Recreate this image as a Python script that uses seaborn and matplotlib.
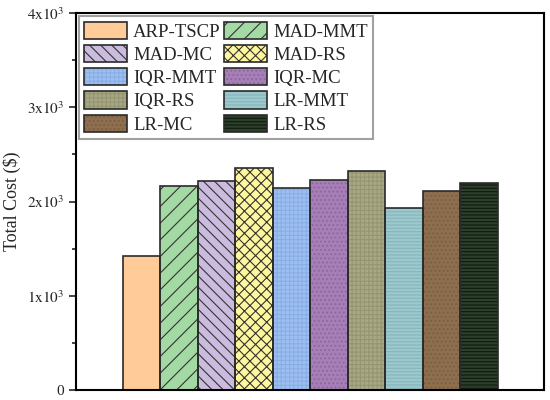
import matplotlib
matplotlib.use("Agg")
import matplotlib.pyplot as plt
import seaborn as sns
import pandas as pd
from matplotlib.patches import Patch
from matplotlib.ticker import MultipleLocator, FuncFormatter

# values
methods = ["ARP-TSCP", "MAD-MMT", "MAD-MC", "MAD-RS", "IQR-MMT",
           "IQR-MC", "IQR-RS", "LR-MMT", "LR-MC", "LR-RS"]
total_cost = [1425, 2164, 2214, 2352, 2140, 2231, 2327, 1928, 2111, 2200]

fill_colors = ["#FFCC99", "#A3D9A3", "#CBBCDF", "#FFF79E", "#9DBFF2",
               "#A77FB7", "#A8A886", "#9CC9CD", "#8D6F4F", "#2B3F2B"]
hatch_colors = ["#FFCC99", "#333333", "#333333", "#333333", "#8AAEE3",
                "#8E64A0", "#959572", "#86B5BA", "#7A5E42", "#111A11"]
hatches = ["", "//", "\\\\\\", "xxx", "++++", "....", "++++", "-----", "....", "-----"]

df = pd.DataFrame({"Method": methods, "Cost": total_cost})

sns.set_style("ticks")
plt.rcParams["font.family"] = ["Liberation Serif", "DejaVu Serif"]
plt.rcParams["mathtext.fontset"] = "stix"
plt.rcParams["hatch.linewidth"] = 0.8

fig, ax = plt.subplots(figsize=(5.5, 4), dpi=100)
fig.subplots_adjust(left=0.138, right=0.989, bottom=0.025, top=0.967)

sns.barplot(data=df, x="Method", y="Cost", hue="Method", palette=fill_colors,
            saturation=1, width=1.0, legend=False, ax=ax, linewidth=0)
for p, h, hc in zip(ax.patches, hatches, hatch_colors):
    p.set_hatch(h)
    p.set_edgecolor(hc)
    p.set_linewidth(0)

# outlines on top
sns.barplot(data=df, x="Method", y="Cost", color="#2a2a2a", fill=False,
            saturation=1, width=1.0, ax=ax, linewidth=1.2)

ax.set_xlim(-1.75, 10.73)
ax.set_ylim(0, 4000)
ax.set_xticks([])
ax.set_xlabel("")
ax.set_ylabel("Total Cost (\\$)", fontsize=13)

ax.yaxis.set_major_locator(MultipleLocator(1000))
ax.yaxis.set_minor_locator(MultipleLocator(500))
ax.yaxis.set_major_formatter(FuncFormatter(
    lambda v, pos: "0" if v == 0 else r"$%d\mathrm{x}10^3$" % int(v / 1000)))
ax.tick_params(axis="y", which="major", length=5, width=1.2, labelsize=11)
ax.tick_params(axis="y", which="minor", length=3, width=1.2)

for s in ax.spines.values():
    s.set_linewidth(1.5)
    s.set_color("black")

handles = []
for fc, hc, h in zip(fill_colors, hatch_colors, hatches):
    handles.append((Patch(facecolor=fc, edgecolor=hc, hatch=h, linewidth=0),
                    Patch(facecolor="none", edgecolor="#2a2a2a", linewidth=1.2)))

# legend is filled row by row in the reference
order = [0, 2, 4, 6, 8, 1, 3, 5, 7, 9]
leg = ax.legend([handles[i] for i in order], [methods[i] for i in order],
                ncol=2, loc="upper left", fontsize=13.5,
                frameon=True, fancybox=False, edgecolor="#888888",
                handlelength=2.25, handleheight=1.05, handletextpad=0.35,
                columnspacing=0.2, labelspacing=0.22, borderpad=0.3,
                borderaxespad=0.15)
leg.get_frame().set_linewidth(1.5)

fig.savefig("out.png", dpi=100)
